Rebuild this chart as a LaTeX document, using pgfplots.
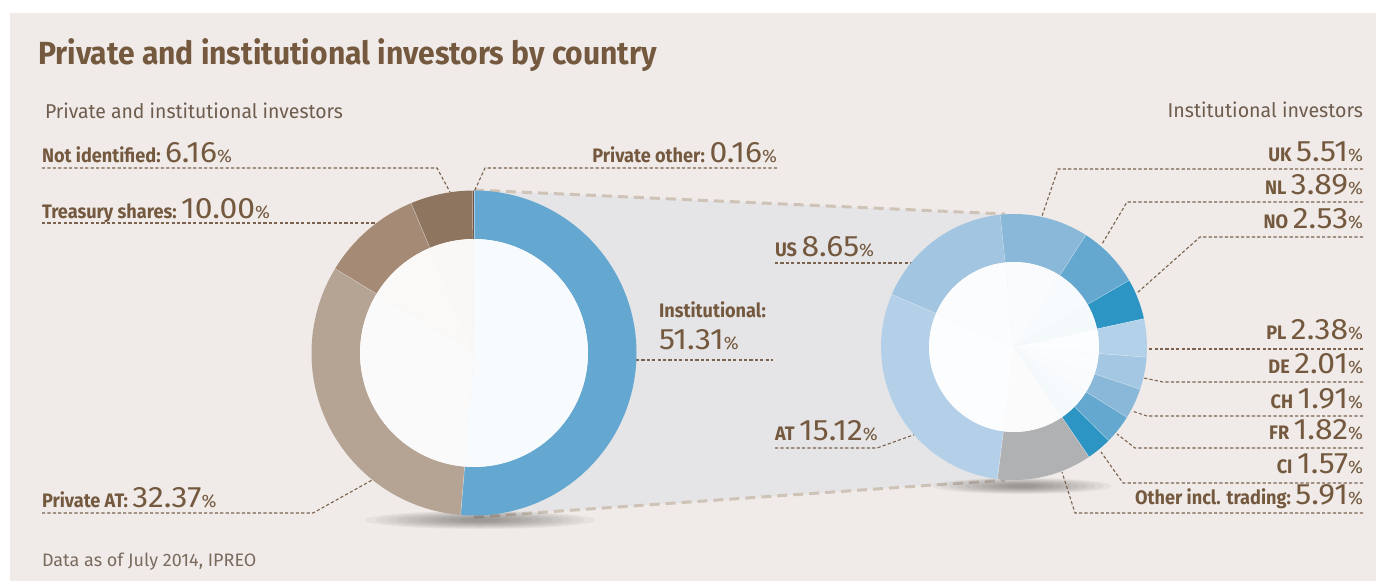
\documentclass[border=0pt]{standalone}
\usepackage{pgfplots}
\pgfplotsset{compat=1.18}
\usepackage{pgfplotstable}
\usepackage{graphicx}
\usepackage{fontspec}
\setmainfont{Fira Sans}
\usetikzlibrary{calc}

\definecolor{bg}{HTML}{F0EBE8}
\definecolor{band}{HTML}{E5E4E6}
\definecolor{bandline}{HTML}{CFC3B8}
\definecolor{txt}{HTML}{74593F}
\definecolor{subtxt}{HTML}{6E5C4E}
\definecolor{foot}{HTML}{7B6B5F}
\definecolor{lead}{HTML}{7A624E}
% left donut
\definecolor{cInst}{HTML}{64A7D0}
\definecolor{cPAT}{HTML}{B5A393}
\definecolor{cTreas}{HTML}{A58A76}
\definecolor{cNotId}{HTML}{8E7560}
\definecolor{cPOth}{HTML}{6E5440}
% right donut
\definecolor{cUK}{HTML}{8AB8D8}
\definecolor{cNL}{HTML}{64A8D0}
\definecolor{cNO}{HTML}{2D95C4}
\definecolor{cPL}{HTML}{B3D1E8}
\definecolor{cDE}{HTML}{A4C8E3}
\definecolor{cCH}{HTML}{8AB8D8}
\definecolor{cFR}{HTML}{64A8D0}
\definecolor{cCI}{HTML}{2D95C4}
\definecolor{cOth}{HTML}{B0B1B3}
\definecolor{cAT}{HTML}{B3D0E8}
\definecolor{cUS}{HTML}{A2C5E1}

\pgfplotstableread{
name value col
Institutional 51.31 cInst
PrivateAT 32.37 cPAT
Treasury 10.00 cTreas
NotIdentified 6.16 cNotId
PrivateOther 0.16 cPOth
}\leftdata

\pgfplotstableread{
name value col
UK 5.51 cUK
NL 3.89 cNL
NO 2.53 cNO
PL 2.38 cPL
DE 2.01 cDE
CH 1.91 cCH
FR 1.82 cFR
CI 1.57 cCI
Other 5.91 cOth
AT 15.12 cAT
US 8.65 cUS
}\rightdata

% table, cx, cy, outer r, inner r, start angle, total
\newcommand\donut[7]{%
  \pgfplotstablegetrowsof{#1}%
  \pgfmathtruncatemacro\nrows{\pgfplotsretval-1}%
  \xdef\angA{#6}%
  \foreach \k in {0,...,\nrows}{%
    \pgfplotstablegetelem{\k}{value}\of{#1}\let\segval\pgfplotsretval
    \pgfplotstablegetelem{\k}{col}\of{#1}\let\segcol\pgfplotsretval
    \pgfmathsetmacro\angB{\angA-\segval/#7*360}%
    \coordinate (C) at (axis cs:#2,#3);
    \fill[fill=\segcol] ($(C)+(\angA:#4pt)$) arc[start angle=\angA,end angle=\angB,radius=#4pt]
      -- ($(C)+(\angB:#5pt)$) arc[start angle=\angB,end angle=\angA,radius=#5pt] -- cycle;
    \fill[fill=\segcol!5!white] (C) -- ($(C)+(\angA:#5pt)$)
      arc[start angle=\angA,end angle=\angB,radius=#5pt] -- cycle;
    \draw[white,opacity=.45,line width=.5pt] ($(C)+(\angA:#5pt)$) -- ($(C)+(\angA:#4pt)$);
    \xdef\angA{\angB}%
  }%
}

% cx, cy, x radius, y radius
\newcommand\shadow[4]{%
  \foreach \s in {0,...,9}{%
    \pgfmathsetmacro\rx{#3*(1-\s/11)}%
    \pgfmathsetmacro\ry{#4*(1-\s/12)}%
    \fill[black, opacity=0.04] (axis cs:#1,#2) ellipse[x radius=\rx pt, y radius=\ry pt];
  }%
}

\newcommand\lb[1]{\scalebox{0.93}[1]{\fontsize{19.5}{20}\selectfont\bfseries #1}}
\newcommand\nm[1]{\hspace{4.5pt}\scalebox{1.08}[1]{\fontsize{29.5}{30}\selectfont #1}}
\newcommand\pc{{\fontsize{18}{18}\selectfont\%}}

\tikzset{tx/.style={text=txt, inner sep=0pt, outer sep=0pt},
         ld/.style={lead, line width=1.1pt, dash pattern=on 3.2pt off 2.2pt}}

\begin{document}
\begin{tikzpicture}
\begin{axis}[
  x=1pt, y=1pt, y dir=reverse,
  xmin=0, xmax=1376, ymin=0, ymax=581,
  hide axis, clip=false,
]
% background panel
\fill[white] (axis cs:0,0) rectangle (axis cs:1376,581);
\fill[bg] (axis cs:10,13) rectangle (axis cs:1376,581);

% band joining the two donuts
\fill[band] (axis cs:474,190) -- (axis cs:1005,214) -- (axis cs:1005,480) -- (axis cs:474,517) -- cycle;
\draw[bandline, line width=3pt, dash pattern=on 10pt off 6pt] (axis cs:474,190) -- (axis cs:1005,214);
\draw[bandline, line width=3pt, dash pattern=on 10pt off 6pt] (axis cs:474,517) -- (axis cs:1005,480);

% soft shadows
\pgfplotsextra{\shadow{480}{520}{115}{9}}
\pgfplotsextra{\shadow{1022}{486}{90}{8}}

% leader lines
\draw[ld] (axis cs:42,168) -- (axis cs:437,168) -- (axis cs:450,192);
\draw[ld] (axis cs:42,223) -- (axis cs:376,223);
\draw[ld] (axis cs:42,513) -- (axis cs:313,513) -- (axis cs:374,479);
\draw[ld] (axis cs:777,168) -- (axis cs:485,168) -- (axis cs:474,192);
\draw[ld] (axis cs:636,360) -- (axis cs:773,360);
\draw[ld] (axis cs:775,263) -- (axis cs:912,263);
\draw[ld] (axis cs:775,448) -- (axis cs:877,448) -- (axis cs:916,434);
\draw[ld] (axis cs:1363,169) -- (axis cs:1058,169) -- (axis cs:1042,216);
\draw[ld] (axis cs:1363,202) -- (axis cs:1127,202) -- (axis cs:1102,244);
\draw[ld] (axis cs:1363,237) -- (axis cs:1200,237) -- (axis cs:1137,293);
\draw[ld] (axis cs:1363,349) -- (axis cs:1146,349);
\draw[ld] (axis cs:1363,382) -- (axis cs:1163,382) -- (axis cs:1144,378);
\draw[ld] (axis cs:1363,416) -- (axis cs:1147,416) -- (axis cs:1132,411);
\draw[ld] (axis cs:1363,448) -- (axis cs:1135,448) -- (axis cs:1117,434);
\draw[ld] (axis cs:1363,483) -- (axis cs:1123,483) -- (axis cs:1101,452);
\draw[ld] (axis cs:1363,513) -- (axis cs:1075,513) -- (axis cs:1062,472);

% donuts from the tables
\pgfplotsextra{\donut{\leftdata}{474}{353}{162.5}{114}{90}{100}}
\pgfplotsextra{\donut{\rightdata}{1014}{347}{133}{85}{96}{51.31}}

% texts
\node[tx, anchor=base west] at (axis cs:38,64)
  {\scalebox{0.94}[1]{\fontsize{32}{34}\selectfont\bfseries Private and institutional investors by country}};
\node[tx, anchor=base west, text=subtxt] at (axis cs:45,118)
  {\scalebox{0.97}[1]{\fontsize{20}{22}\selectfont Private and institutional investors}};
\node[tx, anchor=base east, text=subtxt] at (axis cs:1363,117)
  {\scalebox{0.98}[1]{\fontsize{20}{22}\selectfont Institutional investors}};
\node[tx, anchor=base west, text=foot] at (axis cs:42,566)
  {\fontsize{18}{20}\selectfont Data as of July 2014, IPREO};

\node[tx, anchor=base west] at (axis cs:42,162) {\lb{Not identified:}\nm{6.16}\pc};
\node[tx, anchor=base west] at (axis cs:42,218) {\lb{Treasury shares:}\nm{10.00}\pc};
\node[tx, anchor=base west] at (axis cs:42,507) {\lb{Private AT:}\nm{32.37}\pc};
\node[tx, anchor=base east] at (axis cs:777,162) {\lb{Private other:}\nm{0.16}\pc};
\node[tx, anchor=base west] at (axis cs:659,317) {\lb{Institutional:}};
\node[tx, anchor=base west] at (axis cs:659,349) {\hspace{-4.5pt}\nm{51.31}\pc};
\node[tx, anchor=base west] at (axis cs:775,256) {\lb{US}\nm{8.65}\pc};
\node[tx, anchor=base west] at (axis cs:775,440) {\lb{AT}\nm{15.12}\pc};

\node[tx, anchor=base east] at (axis cs:1363,161) {\lb{UK}\nm{5.51}\pc};
\node[tx, anchor=base east] at (axis cs:1363,194) {\lb{NL}\nm{3.89}\pc};
\node[tx, anchor=base east] at (axis cs:1363,228) {\lb{NO}\nm{2.53}\pc};
\node[tx, anchor=base east] at (axis cs:1363,339) {\lb{PL}\nm{2.38}\pc};
\node[tx, anchor=base east] at (axis cs:1363,373) {\lb{DE}\nm{2.01}\pc};
\node[tx, anchor=base east] at (axis cs:1363,408) {\lb{CH}\nm{1.91}\pc};
\node[tx, anchor=base east] at (axis cs:1363,439) {\lb{FR}\nm{1.82}\pc};
\node[tx, anchor=base east] at (axis cs:1363,473) {\lb{CI}\nm{1.57}\pc};
\node[tx, anchor=base east] at (axis cs:1363,504) {\lb{Other incl. trading:}\nm{5.91}\pc};
\end{axis}
\end{tikzpicture}
\end{document}
